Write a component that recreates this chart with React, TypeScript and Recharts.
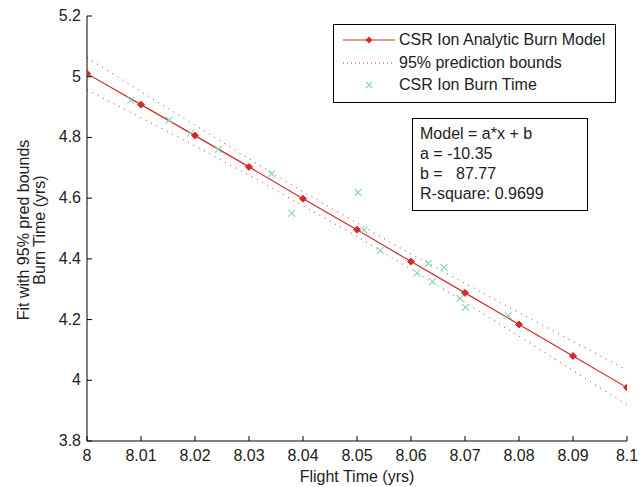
import { ComposedChart, Line, Scatter, XAxis, YAxis, Legend } from 'recharts'

const FONT = "'Liberation Sans', Arial, sans-serif"
const RED = '#d42a2a'
const CYAN = '#7fd8bc'

const xTicks = [8, 8.01, 8.02, 8.03, 8.04, 8.05, 8.06, 8.07, 8.08, 8.09, 8.1]
const yTicks = [3.8, 4, 4.2, 4.4, 4.6, 4.8, 5, 5.2]

// fitted model value at each x tick
const modelY = [5.01, 4.908, 4.806, 4.703, 4.598, 4.496, 4.391, 4.288, 4.184, 4.08, 3.976]
// 95% prediction bounds
const upperY = [5.063, 4.951, 4.84, 4.73, 4.621, 4.518, 4.416, 4.319, 4.223, 4.128, 4.034]
const lowerY = [4.957, 4.865, 4.772, 4.676, 4.575, 4.474, 4.366, 4.257, 4.145, 4.032, 3.918]

// observed burn times
const obsX = [8.0081, 8.0152, 8.0192, 8.0243, 8.0342, 8.0379, 8.0502, 8.0513, 8.0543, 8.0611, 8.0632, 8.064, 8.0661, 8.0691, 8.0701, 8.078]
const obsY = [4.923, 4.857, 4.814, 4.761, 4.68, 4.55, 4.619, 4.495, 4.427, 4.353, 4.385, 4.325, 4.372, 4.27, 4.24, 4.213]

const modelData = xTicks.map((x, i) => ({ x, y: modelY[i] }))
const upperData = xTicks.map((x, i) => ({ x, y: upperY[i] }))
const lowerData = xTicks.map((x, i) => ({ x, y: lowerY[i] }))
const obsData = obsX.map((x, i) => ({ x, y: obsY[i] }))

const TICK_LEN = 5

function LeftTick({ x, y, payload }: any) {
    const ax = x + 6
    return (
        <g>
            <line x1={ax} x2={ax + TICK_LEN} y1={y} y2={y} stroke="#000" />
            <text x={x} y={y} dy={5} textAnchor="end" fontSize={16} fill="#222" fontFamily={FONT}>
                {payload.value}
            </text>
        </g>
    )
}

function RightTick({ x, y }: any) {
    return <line x1={x} x2={x - TICK_LEN} y1={y} y2={y} stroke="#000" />
}

function BottomTick({ x, y, payload }: any) {
    return (
        <g>
            <line x1={x} x2={x} y1={y} y2={y - TICK_LEN} stroke="#000" />
            <text x={x} y={y + 20} textAnchor="middle" fontSize={16} fill="#222" fontFamily={FONT}>
                {payload.value}
            </text>
        </g>
    )
}

function TopTick({ x, y }: any) {
    return <line x1={x} x2={x} y1={y} y2={y + TICK_LEN} stroke="#000" />
}

function Diamond({ cx, cy, index }: any) {
    const r = 3.5
    return (
        <path
            key={`d-${index}`}
            d={`M${cx},${cy - r} L${cx + r},${cy} L${cx},${cy + r} L${cx - r},${cy} Z`}
            fill={RED}
            stroke={RED}
        />
    )
}

function Cross({ cx, cy }: any) {
    const r = 3.5
    return (
        <path
            d={`M${cx - r},${cy - r} L${cx + r},${cy + r} M${cx - r},${cy + r} L${cx + r},${cy - r}`}
            stroke={CYAN}
            strokeWidth={1.1}
            fill="none"
        />
    )
}

function LegendBox() {
    const row = { display: 'flex', alignItems: 'center', height: 22.5 }
    const label = { marginLeft: 3, whiteSpace: 'nowrap' as const }
    return (
        <div
            style={{
                width: 281,
                height: 73,
                border: '1px solid #000',
                background: '#fff',
                fontFamily: FONT,
                fontSize: 16,
                color: '#222',
                paddingTop: 4,
                boxSizing: 'content-box',
            }}
        >
            <div style={row}>
                <svg width={62} height={10}>
                    <line x1={9} x2={61} y1={5} y2={5} stroke={RED} strokeWidth={1.2} />
                    <path d="M35,1.5 L38.5,5 L35,8.5 L31.5,5 Z" fill={RED} />
                </svg>
                <span style={label}>CSR Ion Analytic Burn Model</span>
            </div>
            <div style={row}>
                <svg width={62} height={10}>
                    <line x1={9} x2={61} y1={5} y2={5} stroke={RED} strokeDasharray="1 3" />
                </svg>
                <span style={label}>95% prediction bounds</span>
            </div>
            <div style={row}>
                <svg width={62} height={10}>
                    <path d="M32,2 L38,8 M32,8 L38,2" stroke={CYAN} strokeWidth={1.1} />
                </svg>
                <span style={label}>CSR Ion Burn Time</span>
            </div>
        </div>
    )
}

export default function App() {
    return (
        <div style={{ position: 'absolute', left: 0, top: 0, width: 639, height: 487, background: '#fff' }}>
            <ComposedChart width={639} height={487} margin={{ top: 16, right: 12, bottom: 0, left: 0 }}>
                <XAxis
                    xAxisId="b"
                    dataKey="x"
                    type="number"
                    domain={[8, 8.1]}
                    ticks={xTicks}
                    allowDataOverflow
                    height={46}
                    tickSize={0}
                    tickMargin={0}
                    tick={<BottomTick />}
                    axisLine={{ stroke: '#000' }}
                    interval={0}
                    label={{
                        content: () => (
                            <text x={357} y={482} textAnchor="middle" fontSize={16} fill="#222" fontFamily={FONT}>
                                Flight Time (yrs)
                            </text>
                        ),
                    }}
                />
                <XAxis
                    xAxisId="t"
                    orientation="top"
                    type="number"
                    domain={[8, 8.1]}
                    ticks={xTicks}
                    allowDataOverflow
                    height={0}
                    tickSize={0}
                    tickMargin={0}
                    tick={<TopTick />}
                    axisLine={{ stroke: '#000' }}
                    interval={0}
                />
                <YAxis
                    yAxisId="l"
                    type="number"
                    domain={[3.8, 5.2]}
                    ticks={yTicks}
                    allowDataOverflow
                    width={87}
                    tickSize={0}
                    tickMargin={6}
                    tick={<LeftTick />}
                    axisLine={{ stroke: '#000' }}
                    interval={0}
                    label={{
                        content: () => (
                            <g fontSize={16} fill="#222" fontFamily={FONT}>
                                <text x={29} y={230} textAnchor="middle" transform="rotate(-90 29 230)">
                                    Fit with 95% pred bounds
                                </text>
                                <text x={45} y={230} textAnchor="middle" transform="rotate(-90 45 230)">
                                    Burn Time (yrs)
                                </text>
                            </g>
                        ),
                    }}
                />
                <YAxis
                    yAxisId="r"
                    orientation="right"
                    type="number"
                    domain={[3.8, 5.2]}
                    ticks={yTicks}
                    allowDataOverflow
                    width={0}
                    tickSize={0}
                    tickMargin={0}
                    tick={<RightTick />}
                    axisLine={{ stroke: '#000' }}
                    interval={0}
                />
                <Line
                    xAxisId="b"
                    yAxisId="l"
                    data={upperData}
                    dataKey="y"
                    name="95% prediction bounds"
                    stroke={RED}
                    strokeWidth={1}
                    strokeDasharray="1 5"
                    dot={false}
                    activeDot={false}
                    isAnimationActive={false}
                />
                <Line
                    xAxisId="b"
                    yAxisId="l"
                    data={lowerData}
                    dataKey="y"
                    name="lower bound"
                    legendType="none"
                    stroke={RED}
                    strokeWidth={1}
                    strokeDasharray="1 5"
                    dot={false}
                    activeDot={false}
                    isAnimationActive={false}
                />
                <Scatter
                    xAxisId="b"
                    yAxisId="l"
                    data={obsData}
                    dataKey="y"
                    name="CSR Ion Burn Time"
                    shape={<Cross />}
                    isAnimationActive={false}
                />
                <Line
                    xAxisId="b"
                    yAxisId="l"
                    data={modelData}
                    dataKey="y"
                    name="CSR Ion Analytic Burn Model"
                    stroke={RED}
                    strokeWidth={1.2}
                    dot={<Diamond />}
                    activeDot={false}
                    isAnimationActive={false}
                />
                <Legend
                    layout="vertical"
                    verticalAlign="middle"
                    align="center"
                    content={() => <LegendBox />}
                    wrapperStyle={{ left: 333, top: 24, width: 283, height: 77 }}
                />
            </ComposedChart>
            <div
                style={{
                    position: 'absolute',
                    left: 412,
                    top: 118,
                    width: 167,
                    height: 86,
                    border: '1px solid #000',
                    background: '#fff',
                    fontFamily: FONT,
                    fontSize: 16,
                    lineHeight: '20px',
                    color: '#222',
                    padding: '5px 0 0 7px',
                    whiteSpace: 'pre',
                }}
            >
                <div>Model = a*x + b</div>
                <div>a = -10.35</div>
                <div>b =   87.77</div>
                <div>R-square: 0.9699</div>
            </div>
        </div>
    )
}
